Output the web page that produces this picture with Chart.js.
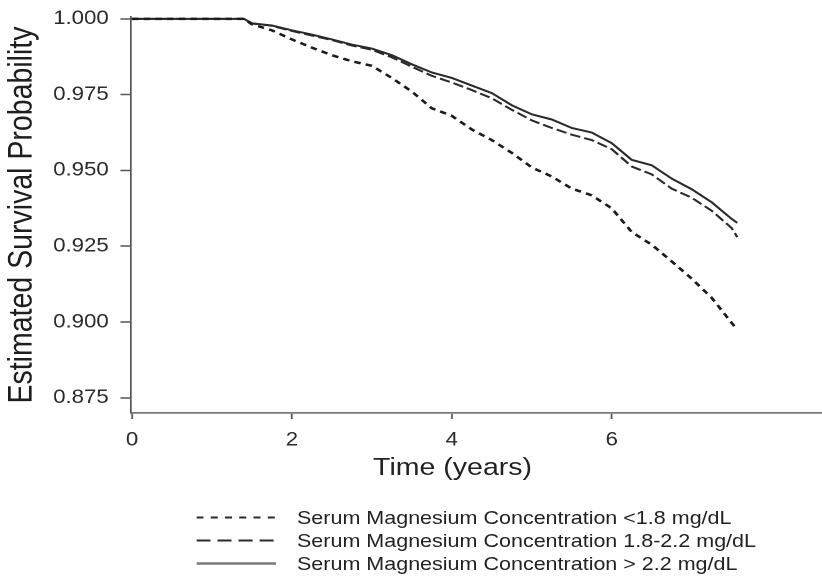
<!DOCTYPE html>
<html>
<head>
<meta charset="utf-8">
<script src="https://cdn.jsdelivr.net/npm/chart.js@4.4.1/dist/chart.umd.min.js"></script>
<style>
  body { margin: 0; background: #fff; overflow: hidden; }
  #wrap {
    position: absolute; left: 0; top: 0;
    width: 703px; height: 579px;
    transform: scaleX(1.1693); transform-origin: 0 0;
    font-family: "Liberation Sans", Arial, sans-serif; color: #222;
  }
  #box { position: absolute; left: 0; top: 0; width: 703px; height: 579px; }
  #xtitle {
    position: absolute; left: 287px; top: 455px; width: 200px;
    text-align: center; font-size: 24.4px; line-height: 1;
  }
  .row { position: absolute; left: 168px; height: 23px; line-height: 23px; font-size: 18.4px; white-space: nowrap; }
  .row svg { position: absolute; left: 0; top: 0; }
  .row span { position: absolute; left: 86px; top: 0; }
</style>
</head>
<body>
<div id="wrap">
  <div id="box"><canvas id="km"></canvas></div>
  <div id="xtitle">Time (years)</div>
  <div id="legend"></div>
</div>
<script>
// time in years
const times = [0, 1.4, 1.5, 1.75, 2.0, 2.25, 2.5, 2.75, 3.0, 3.25, 3.5, 3.75, 4.0, 4.25, 4.5,
  4.75, 5.0, 5.25, 5.5, 5.75, 6.0, 6.25, 6.5, 6.75, 7.0, 7.25, 7.5, 7.57];

// Serum Mg < 1.8 mg/dL
const survLow = [1.000, 1.000, 0.9982, 0.9962, 0.9932, 0.9905, 0.9880, 0.9860, 0.9845, 0.9805, 0.9760,
  0.9705, 0.9680, 0.9635, 0.9600, 0.9558, 0.9510, 0.9480, 0.9440, 0.9418, 0.9375, 0.9297, 0.9255,
  0.9200, 0.9143, 0.9080, 0.8997, 0.8975];

// Serum Mg 1.8-2.2 mg/dL
const survMid = [1.000, 1.000, 0.9985, 0.9977, 0.9960, 0.9945, 0.9930, 0.9912, 0.9898, 0.9873, 0.9842,
  0.9812, 0.9790, 0.9765, 0.9738, 0.9700, 0.9665, 0.9640, 0.9618, 0.9600, 0.9570, 0.9513, 0.9487,
  0.9440, 0.9410, 0.9367, 0.9310, 0.9280];

// Serum Mg > 2.2 mg/dL
const survHigh = [1.000, 1.000, 0.9985, 0.9978, 0.9962, 0.9948, 0.9932, 0.9915, 0.9902, 0.9880, 0.9850,
  0.9823, 0.9805, 0.9780, 0.9755, 0.9715, 0.9685, 0.9668, 0.9640, 0.9625, 0.9590, 0.9535, 0.9517,
  0.9473, 0.9438, 0.9395, 0.9340, 0.9327];

const seriesNames = [
  "Serum Magnesium Concentration <1.8 mg/dL",
  "Serum Magnesium Concentration 1.8-2.2 mg/dL",
  "Serum Magnesium Concentration > 2.2 mg/dL"
];

const xTicks = [0, 2, 4, 6];
const yTicks = [0.875, 0.900, 0.925, 0.950, 0.975, 1.000];

function pts(vals) {
  return times.map((t, i) => ({ x: t, y: vals[i] }));
}

const lineStyles = [
  { color: "#1c1c1c", width: 2.5, dash: [5.5, 4.5] },
  { color: "#2a2a2a", width: 2, dash: [9, 3.5] },
  { color: "#2a2a2a", width: 2, dash: [] }
];

const font = "'Liberation Sans', Arial, sans-serif";

new Chart(document.getElementById("km"), {
  type: "line",
  data: {
    datasets: [survLow, survMid, survHigh].map((v, i) => ({
      label: seriesNames[i],
      data: pts(v),
      borderColor: lineStyles[i].color,
      borderWidth: lineStyles[i].width,
      borderDash: lineStyles[i].dash,
      pointRadius: 0,
      fill: false,
      tension: 0
    }))
  },
  options: {
    responsive: true,
    maintainAspectRatio: false,
    animation: false,
    devicePixelRatio: 2,
    layout: { autoPadding: false, padding: { top: 17, left: 0, right: 0, bottom: 0 } },
    plugins: { legend: { display: false }, tooltip: { enabled: false } },
    scales: {
      x: {
        type: "linear",
        min: -0.0125,
        max: 8.63,
        afterFit: (s) => { s.height = 166; s.paddingLeft = 0; s.paddingRight = 0; },
        afterBuildTicks: (s) => { s.ticks = xTicks.map((v) => ({ value: v })); },
        border: { color: "#7a7a7a", width: 1.8 },
        grid: { drawOnChartArea: false, tickLength: 6, tickColor: "#555", tickWidth: 1.5 },
        ticks: { padding: 10, maxRotation: 0, color: "#2b2b2b", font: { family: font, size: 19 } }
      },
      y: {
        min: 0.870,
        max: 1.0006,
        afterFit: (s) => { s.width = 112; s.paddingTop = 0; s.paddingBottom = 0; },
        afterBuildTicks: (s) => { s.ticks = yTicks.map((v) => ({ value: v })); },
        border: { color: "#555", width: 1.6 },
        grid: { drawOnChartArea: false, tickLength: 9, tickColor: "#555", tickWidth: 1.5 },
        ticks: {
          padding: 10, color: "#2b2b2b", font: { family: font, size: 19 },
          callback: (v) => Number(v).toFixed(3)
        },
        title: {
          display: true, text: "Estimated Survival Probability",
          color: "#1e1e1e", font: { family: font, size: 28.5 }, padding: { top: 2, bottom: 0 }
        }
      }
    }
  }
});

// legend below the plot
const legendDash = [[6, 6.2], [12, 6], []];
const legend = document.getElementById("legend");
seriesNames.forEach((name, i) => {
  const row = document.createElement("div");
  row.className = "row";
  row.style.top = (506 + i * 23) + "px";
  const dash = legendDash[i].length ? `stroke-dasharray="${legendDash[i].join(" ")}"` : "";
  row.innerHTML =
    `<svg width="70" height="23"><line x1="0" y1="11.5" x2="68" y2="11.5" stroke="${i === 2 ? "#777" : "#2a2a2a"}" stroke-width="${i === 2 ? 2.6 : 2}" ${dash}/></svg>` +
    `<span>${name.replace("<", "&lt;").replace(">", "&gt;")}</span>`;
  legend.appendChild(row);
});
</script>
</body>
</html>
